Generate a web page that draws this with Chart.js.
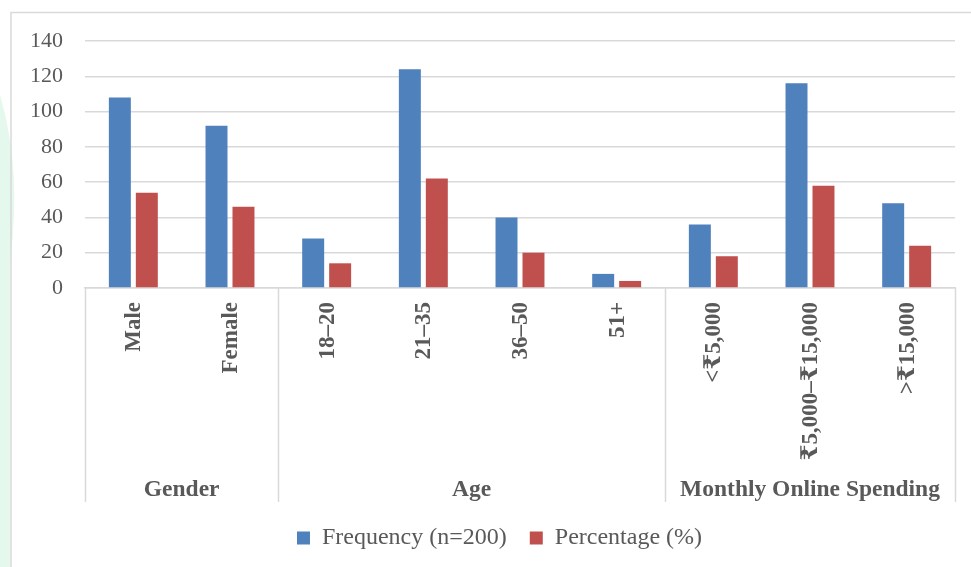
<!DOCTYPE html>
<html><head><meta charset="utf-8">
<script src="https://cdn.jsdelivr.net/npm/chart.js@4/dist/chart.umd.min.js"></script>
<style>html,body{margin:0;padding:0;background:#fff;} #wrap{width:971px;height:567px;position:relative;}</style>
</head><body><div id="wrap"><canvas id="c" width="971" height="567"></canvas></div>
<script>
const categories = ['Male', 'Female', '18–20', '21–35', '36–50', '51+', '<₹5,000', '₹5,000–₹15,000', '>₹15,000'];
const groupNames = ['Gender', 'Age', 'Monthly Online Spending'];
const groupSizes = [2, 4, 3];
const frequency = [108, 92, 28, 124, 40, 8, 36, 116, 48];
const percentage = [54, 46, 14, 62, 20, 4, 18, 58, 24];
const seriesNames = ['Frequency (n=200)', 'Percentage (%)'];
const yMin = 0, yMax = 140, yStep = 20;

const TEXT = '#595959';
const LINE = '#d9d9d9';
const SERIF = "'Liberation Serif', 'Times New Roman', 'DejaVu Serif', 'Noto Sans', serif";

const frame = {
  id: 'frame',
  afterLayout(chart) {
    // shift the legend row to sit under the plot as in the original
    if (chart.legend) { chart.legend.left += 22; chart.legend.right += 22; }
  },
  beforeDraw(chart) {
    const ctx = chart.ctx;
    ctx.save();
    // faint watermark band on the left edge
    ctx.fillStyle = 'rgba(205,242,222,0.55)';
    ctx.beginPath();
    ctx.moveTo(0, 95);
    ctx.quadraticCurveTo(22, 170, 10, 260);
    ctx.lineTo(10, 567);
    ctx.lineTo(0, 567);
    ctx.closePath();
    ctx.fill();
    // outer border
    ctx.strokeStyle = LINE;
    ctx.lineWidth = 1.5;
    ctx.beginPath();
    ctx.moveTo(11, 567);
    ctx.lineTo(11, 12.5);
    ctx.lineTo(971, 12.5);
    ctx.stroke();
    ctx.restore();
  },
  afterDraw(chart) {
    const ctx = chart.ctx;
    const xs = chart.scales.x;
    const top = chart.chartArea.bottom;
    const bottom = 502;
    const half = (xs.getPixelForValue(1) - xs.getPixelForValue(0)) / 2;
    ctx.save();
    ctx.strokeStyle = LINE;
    ctx.lineWidth = 1.5;
    // separators between the category groups
    const bounds = [xs.getPixelForValue(0) - half];
    let idx = 0;
    groupSizes.forEach(s => { idx += s; bounds.push(xs.getPixelForValue(idx - 1) + half); });
    bounds.forEach(b => {
      ctx.beginPath();
      ctx.moveTo(Math.round(b) + 0.5, top);
      ctx.lineTo(Math.round(b) + 0.5, bottom);
      ctx.stroke();
    });
    // rotated category labels
    ctx.fillStyle = TEXT;
    ctx.font = 'bold 23px ' + SERIF;
    ctx.textAlign = 'right';
    ctx.textBaseline = 'middle';
    categories.forEach((c, i) => {
      const x = xs.getPixelForValue(i);
      ctx.save();
      ctx.translate(x + 1, top + 14);
      ctx.rotate(-Math.PI / 2);
      ctx.fillText(c, 0, 0);
      ctx.restore();
    });
    // group labels
    ctx.font = 'bold 23.5px ' + SERIF;
    ctx.textAlign = 'center';
    ctx.textBaseline = 'alphabetic';
    groupNames.forEach((g, k) => {
      const cx = (bounds[k] + bounds[k + 1]) / 2;
      ctx.fillText(g, cx, 496);
    });
    ctx.restore();
  }
};

new Chart(document.getElementById('c'), {
  type: 'bar',
  data: {
    labels: categories,
    datasets: [
      { label: seriesNames[0], data: frequency, backgroundColor: '#4f81bd', categoryPercentage: 0.558, barPercentage: 0.815 },
      { label: seriesNames[1], data: percentage, backgroundColor: '#c0504d', categoryPercentage: 0.558, barPercentage: 0.815 }
    ]
  },
  options: {
    responsive: false,
    devicePixelRatio: 1,
    animation: false,
    layout: { padding: { left: 0, right: 16, top: 41, bottom: 7 } },
    plugins: {
      legend: {
        position: 'bottom',
        labels: {
          color: TEXT,
          font: { family: SERIF, size: 24 },
          boxWidth: 13,
          boxHeight: 13,
          padding: 23
        }
      },
      tooltip: { enabled: false }
    },
    scales: {
      x: {
        grid: { display: false },
        border: { display: true, color: LINE, width: 1.5 },
        ticks: { display: false },
        afterFit(scale) { scale.height = 215; }
      },
      y: {
        min: yMin, max: yMax,
        ticks: { stepSize: yStep, color: TEXT, font: { family: SERIF, size: 22 }, padding: 22 },
        grid: { color: LINE, lineWidth: 1.5, drawTicks: false },
        border: { display: false },
        afterFit(scale) { scale.width = 85; }
      }
    }
  },
  plugins: [frame]
});
</script>
</body></html>
